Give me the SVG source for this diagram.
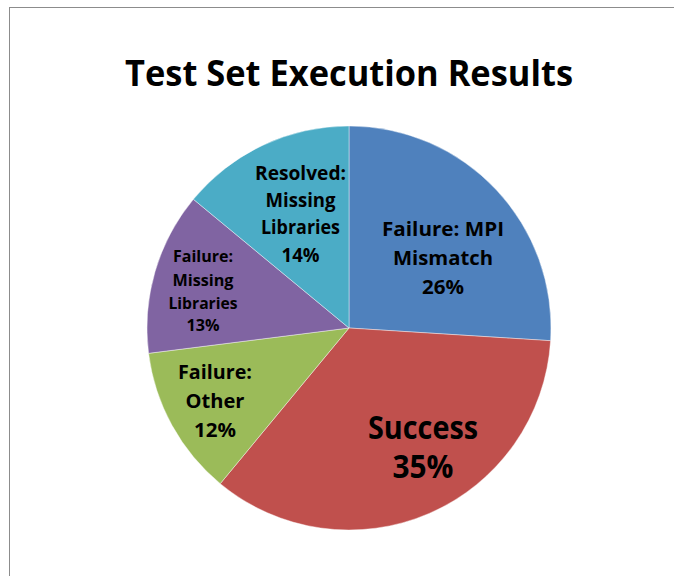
<svg xmlns="http://www.w3.org/2000/svg" width="674" height="576" viewBox="0 0 674 576">
<style>
.t{font-family:"Open Sans",Lato,"Liberation Sans",sans-serif;font-weight:bold;fill:#000;text-anchor:middle}
.s{stroke:#fff;stroke-width:0.6;stroke-opacity:0.7}
</style>
<rect x="0" y="0" width="674" height="576" fill="#fff"/>
<rect x="9.5" y="7.5" width="700" height="600" fill="none" stroke="#8c8c8c" stroke-width="1"/>
<text class="t" x="349" y="86" font-size="36" textLength="448" lengthAdjust="spacingAndGlyphs">Test Set Execution Results</text>
<g id="mpi">
<path class="s" d="M349,328 L349,126 A202,202 0 0 1 550.6,340.7 Z" fill="#4F81BD"/>
<text class="t" font-size="20"><tspan x="443" y="236" textLength="122" lengthAdjust="spacingAndGlyphs">Failure: MPI</tspan><tspan x="443" y="265" textLength="100" lengthAdjust="spacingAndGlyphs">Mismatch</tspan><tspan x="443" y="294" textLength="42" lengthAdjust="spacingAndGlyphs">26%</tspan></text>
</g>
<g id="success">
<path class="s" d="M349,328 L550.6,340.7 A202,202 0 0 1 220.24,483.64 Z" fill="#C0504D"/>
<text class="t" font-size="32"><tspan x="423" y="439" textLength="110" lengthAdjust="spacingAndGlyphs">Success</tspan><tspan x="423" y="478" textLength="61" lengthAdjust="spacingAndGlyphs">35%</tspan></text>
</g>
<g id="other">
<path class="s" d="M349,328 L220.24,483.64 A202,202 0 0 1 148.59,353.32 Z" fill="#9BBB59"/>
<text class="t" font-size="20"><tspan x="215" y="379" textLength="74" lengthAdjust="spacingAndGlyphs">Failure:</tspan><tspan x="215" y="408" textLength="59" lengthAdjust="spacingAndGlyphs">Other</tspan><tspan x="215" y="437" textLength="42" lengthAdjust="spacingAndGlyphs">12%</tspan></text>
</g>
<g id="missing">
<path class="s" d="M349,328 L148.59,353.32 A202,202 0 0 1 193.36,199.24 Z" fill="#8064A2"/>
<text class="t" font-size="16"><tspan x="203" y="262" textLength="60" lengthAdjust="spacingAndGlyphs">Failure:</tspan><tspan x="203" y="285.5" textLength="61" lengthAdjust="spacingAndGlyphs">Missing</tspan><tspan x="203" y="308.5" textLength="69" lengthAdjust="spacingAndGlyphs">Libraries</tspan><tspan x="203" y="331" textLength="33" lengthAdjust="spacingAndGlyphs">13%</tspan></text>
</g>
<g id="resolved">
<path class="s" d="M349,328 L193.36,199.24 A202,202 0 0 1 349,126 Z" fill="#4BACC6"/>
<text class="t" font-size="19.5"><tspan x="300.5" y="180" textLength="91" lengthAdjust="spacingAndGlyphs">Resolved:</tspan><tspan x="300.5" y="207" textLength="70" lengthAdjust="spacingAndGlyphs">Missing</tspan><tspan x="300.5" y="234" textLength="79" lengthAdjust="spacingAndGlyphs">Libraries</tspan><tspan x="300.5" y="261.5" textLength="38" lengthAdjust="spacingAndGlyphs">14%</tspan></text>
</g>
</svg>
